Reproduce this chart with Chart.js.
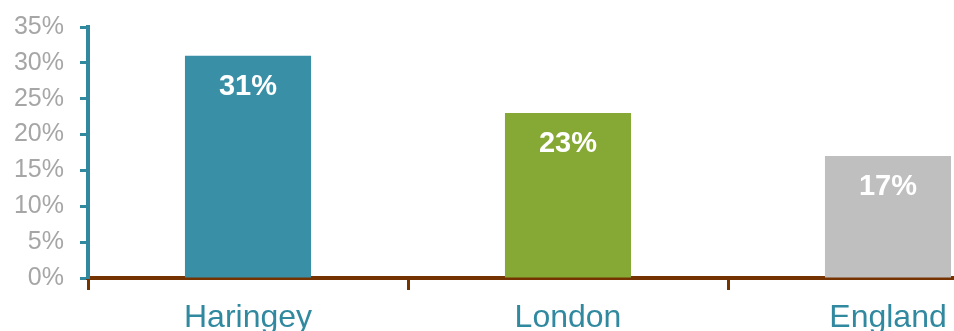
<!DOCTYPE html>
<html>
<head>
<meta charset="utf-8">
<script src="https://cdn.jsdelivr.net/npm/chart.js@4"></script>
<style>
  html, body { margin: 0; padding: 0; background: #fff; overflow: hidden; }
  #wrap { width: 1048px; height: 331px; }
</style>
</head>
<body>
<div id="wrap"><canvas id="shareChart" width="1048" height="331"></canvas></div>
<script>
const areas = ["Haringey", "London", "England"];
const shares = [31, 23, 17];
const yTicks = [0, 5, 10, 15, 20, 25, 30, 35];

const barColours = ["#3990a6", "#86a935", "#bfbfbf"];
const teal = "#3189a0";
const brown = "#743300";

// white percentage printed inside the top of each bar
const barLabels = {
  id: "barLabels",
  afterDatasetsDraw(chart) {
    const ctx = chart.ctx;
    const meta = chart.getDatasetMeta(0);
    ctx.save();
    ctx.fillStyle = "#ffffff";
    ctx.font = "bold 29px 'Liberation Sans', Arial, sans-serif";
    ctx.textAlign = "center";
    ctx.textBaseline = "middle";
    meta.data.forEach((bar, i) => {
      ctx.fillText(shares[i] + "%", bar.x, bar.y + 31);
    });
    ctx.restore();
  },
};

const ctx = document.getElementById("shareChart").getContext("2d");
new Chart(ctx, {
  type: "bar",
  data: {
    labels: areas,
    datasets: [
      {
        data: shares,
        backgroundColor: barColours,
        barPercentage: 0.394,
        categoryPercentage: 1,
      },
    ],
  },
  options: {
    responsive: false,
    animation: false,
    layout: { padding: { top: 27, right: 0, bottom: 0, left: 0 } },
    plugins: {
      legend: { display: false },
      tooltip: { enabled: false },
    },
    scales: {
      x: {
        afterFit(scale) {
          scale.height = 53;
          scale.paddingLeft = 0;
          scale.paddingRight = 0;
        },
        grid: {
          drawOnChartArea: false,
          offset: true,
          tickLength: 12,
          tickWidth: 3,
          tickColor: brown,
        },
        border: { color: brown, width: 4 },
        ticks: {
          color: teal,
          padding: 9,
          font: { family: "'Liberation Sans', Arial, sans-serif", size: 32 },
        },
      },
      y: {
        min: 0,
        max: 35,
        afterFit(scale) {
          scale.width = 88;
          scale.paddingTop = 0;
          scale.paddingBottom = 0;
        },
        afterBuildTicks(scale) {
          scale.ticks = yTicks.map((v) => ({ value: v }));
        },
        grid: {
          drawOnChartArea: false,
          tickLength: 8,
          tickWidth: 3,
          tickColor: teal,
        },
        border: { color: teal, width: 4 },
        ticks: {
          color: "#a6a6a6",
          padding: 16,
          font: { family: "'Liberation Sans', Arial, sans-serif", size: 25 },
          callback: (v) => v + "%",
        },
      },
    },
  },
  plugins: [barLabels],
});
</script>
</body>
</html>
